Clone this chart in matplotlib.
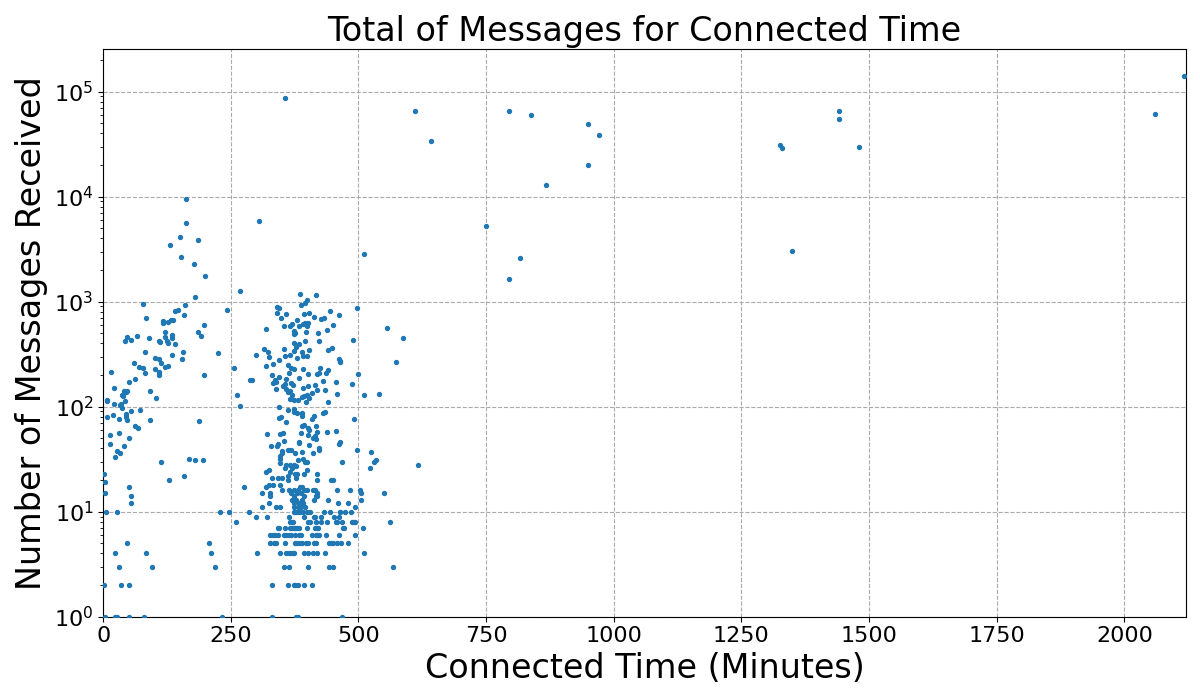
import matplotlib
matplotlib.use("Agg")
import matplotlib.pyplot as plt

# -------------------------------------------------------
# Data: (connected minutes, messages)
# -------------------------------------------------------

# sparse high-volume users
top_minutes = [357, 611, 642, 795, 838, 949, 971, 949, 868, 306, 750, 511, 817,
               795, 2117, 1441, 1441, 1325, 1330, 1480, 1349, 2060]
top_messages = [87000, 65500, 34000, 65500, 60000, 49000, 38700, 20000, 12900,
                5870, 5250, 2850, 2610, 1645, 141000, 65500, 55000, 31300,
                29100, 29700, 3040, 61300]

# left cluster (0-300 min)
left_minutes = [162, 163, 151, 186, 130, 153, 177, 200, 267, 179, 77, 160, 147,
                140, 243, 159, 83, 136, 132, 118, 118, 126, 198, 185, 192, 121,
                134, 134, 121, 67, 46, 42, 55, 89, 109, 112, 124, 126, 140, 81,
                157, 134, 224, 102, 110, 155, 61, 114, 71, 77, 122, 126, 102, 16,
                81, 110, 110, 198, 257, 63, 50, 288, 292, 22, 40, 47, 44, 91, 36,
                38, 263, 104, 8,
                8, 22, 32, 34, 36, 42, 267, 8, 20, 30, 44, 46, 44, 55, 73, 91, 63,
                69, 188, 14, 30, 51, 14, 40, 28, 32, 24, 114, 169, 180, 196, 128,
                159, 1, 3, 3, 50, 55, 55, 275, 6, 28, 228, 247, 286, 261, 46, 208,
                24, 83, 212, 30, 96, 219, 1, 34, 51, 3, 24, 28, 51, 79, 232]
left_messages = [9500, 5600, 4130, 3870, 3470, 2670, 2290, 1760, 1260, 1110, 950,
                 930, 830, 820, 830, 745, 700, 670, 670, 655, 630, 640, 600, 515,
                 470, 515, 485, 455, 460, 475, 465, 423, 435, 455, 420, 410, 420,
                 400, 395, 330, 330, 310, 325, 290, 285, 285, 260, 260, 239, 233,
                 239, 244, 228, 214, 210, 214, 200, 200, 233, 184, 172, 180, 180,
                 151, 141, 141, 138, 141, 129, 126, 129, 121, 117,
                 113, 106, 104, 106, 97, 113, 101, 80, 83, 76, 80, 75, 85, 91, 93,
                 75, 66, 62, 73, 54, 56, 50, 44, 42, 38, 36, 33, 30, 32, 31, 31,
                 20, 22, 23, 19, 15, 17, 14, 12, 17, 10, 10, 10, 10, 10, 8, 5, 5,
                 4, 4, 4, 3, 3, 3, 2, 2, 2, 1, 1, 1, 1, 1, 1]

# dense cluster (300-520 min), above ~100 messages
mid_hi_minutes = [386, 416, 400, 396, 388, 341, 345, 498, 445, 404, 394, 341, 359,
                  461, 349, 412, 433, 427, 380, 402, 396, 392, 369, 365, 355, 384,
                  400, 451, 318, 439, 374, 376, 398, 373, 421, 490, 396, 374, 423,
                  384, 378, 314, 355, 404, 449, 441, 322, 373, 390, 392, 365, 357,
                  380, 400, 324, 461, 464, 463, 300, 345, 333, 361, 367, 374, 318,
                  425, 392, 441, 437, 402, 384, 418, 423, 331, 345, 363, 500, 359,
                  337, 339, 333, 455, 431, 488, 357, 367, 371, 353, 414, 402, 392,
                  339, 359, 365, 418, 435, 408, 457, 511, 369, 361, 400, 394, 390,
                  365, 382, 398, 441, 373, 404]
mid_hi_messages = [1183, 1158, 1031, 971, 929, 889, 871, 871, 815, 780, 764, 780,
                   764, 747, 699, 714, 699, 684, 669, 627, 627, 613, 613, 586, 586,
                   586, 586, 600, 549, 537, 526, 504, 514, 492, 504, 432, 422, 404,
                   422, 395, 370, 354, 354, 347, 362, 347, 332, 339, 332, 304, 311,
                   304, 291, 304, 297, 285, 272, 266, 311, 278, 255, 249, 233, 228,
                   244, 233, 228, 223, 209, 205, 188, 205, 209, 200, 192, 209, 205,
                   184, 180, 172, 168, 172, 176, 164, 164, 168, 161, 157, 161, 157,
                   151, 147, 147, 141, 144, 144, 135, 132, 129, 129, 138, 129, 126,
                   124, 118, 116, 111, 111, 116, 121]

# dense cluster, 11-100 messages
mid_lo_minutes = [345, 361, 374, 374, 380, 390, 435, 431, 390, 412, 349, 345, 408,
                  359, 492, 394, 390, 416, 402, 404, 320, 347, 353, 388, 419, 439,
                  455, 414, 416, 402, 410, 355, 384, 384, 343, 341, 329, 463, 461,
                  404, 423, 423, 498, 361, 367, 351, 351, 376, 390, 410, 347, 347,
                  392, 396, 382, 400, 347, 468, 359, 365, 373, 378, 357, 369, 324,
                  318, 400, 365, 376, 380, 361, 378, 394, 418, 331, 343, 351, 419,
                  447, 451, 361, 318, 324, 390, 333, 347, 363, 386, 394, 400, 410,
                  373, 312, 327, 351, 382, 414, 457, 484, 502, 504, 367, 380, 388,
                  418, 418, 327, 374, 394, 504, 369, 378, 390, 412, 416, 441, 459,
                  480, 494, 324, 374, 384, 392, 312, 339, 347, 373, 382, 388, 396]
mid_lo_messages = [99, 93, 95, 89, 87, 87, 89, 87, 82, 82, 80, 78, 76, 71, 76, 67,
                   65, 65, 63, 60, 55, 55, 56, 56, 57, 57, 59, 53, 49, 54, 50, 47,
                   46, 45, 44, 42, 42, 46, 44, 43, 40, 39, 39, 39, 39, 38, 36, 36,
                   37, 36, 34, 32, 32, 30, 31, 30, 29, 30, 28, 28, 28, 27, 26, 26,
                   25, 24, 25, 24, 23, 23, 22, 21, 23, 23, 21, 21, 21, 20, 20, 20,
                   20, 17, 18, 17, 18, 18, 16, 17, 16, 16, 16, 16, 15, 15, 16, 16,
                   16, 16, 16, 16, 15, 15, 15, 15, 15, 14, 14, 14, 14, 13, 13, 13,
                   13, 13, 14, 13, 12, 12, 11, 12, 12, 12, 12, 11, 11, 11, 11, 11,
                   11, 11]

# dense cluster, integer rows 1-10 messages
row_10 = [374, 378, 382, 386, 392, 400, 406, 433, 445, 463, 464, 474, 486]
row_9 = [300, 320, 363, 394, 412, 414, 427, 453, 461]
row_8 = [365, 369, 371, 402, 406, 416, 427, 439, 455, 457, 468, 488, 492, 494]
row_7 = [343, 345, 357, 365, 369, 373, 376, 380, 384, 400, 414, 418, 421, 470,
         472, 509]
row_6 = [327, 333, 337, 343, 355, 359, 363, 367, 376, 384, 388, 408, 416, 419,
         423, 437, 461, 494]
row_5 = [327, 335, 339, 357, 376, 380, 386, 390, 398, 402, 412, 416, 443, 447,
         451, 457, 466, 480]
row_4 = [302, 347, 359, 363, 367, 371, 374, 394, 402, 410, 418, 435, 511]
row_3 = [355, 363, 402, 443, 451]
row_2 = [331, 361, 373, 376, 382, 394, 408]
row_1 = [331, 378, 382, 468]

# right tail of the cluster (520-620 min)
tail_minutes = [556, 588, 574, 541, 525, 535, 531, 523, 617, 549, 562, 568]
tail_messages = [560, 451, 267, 132, 37, 31, 30, 26, 28, 15, 8, 3]


def build_points():
    xs = top_minutes + left_minutes + mid_hi_minutes + mid_lo_minutes + tail_minutes
    ys = top_messages + left_messages + mid_hi_messages + mid_lo_messages + tail_messages
    rows = [(10, row_10), (9, row_9), (8, row_8), (7, row_7), (6, row_6),
            (5, row_5), (4, row_4), (3, row_3), (2, row_2), (1, row_1)]
    for val, row in rows:
        xs = xs + row
        ys = ys + [val] * len(row)
    return xs, ys


def plot_messages():
    xs, ys = build_points()

    fig, ax = plt.subplots(figsize=(12, 7), dpi=100)
    ax.scatter(xs, ys, s=8, color="#1f77b4", zorder=3)

    ax.set_yscale("log")
    ax.set_xlim(0, 2120)
    ax.set_ylim(1, 2.55e5)

    ax.set_title("Total of Messages for Connected Time", fontsize=24)
    ax.set_xlabel("Connected Time (Minutes)", fontsize=24)
    ax.set_ylabel("Number of Messages Received", fontsize=24)
    ax.tick_params(axis="both", which="major", labelsize=16)

    ax.grid(True, which="major", linestyle="--", color="#aaaaaa", linewidth=0.8)

    plt.subplots_adjust(left=0.086, right=0.988, top=0.93, bottom=0.119)
    plt.savefig("out.png")
    plt.close()


if __name__ == "__main__":
    plot_messages()
